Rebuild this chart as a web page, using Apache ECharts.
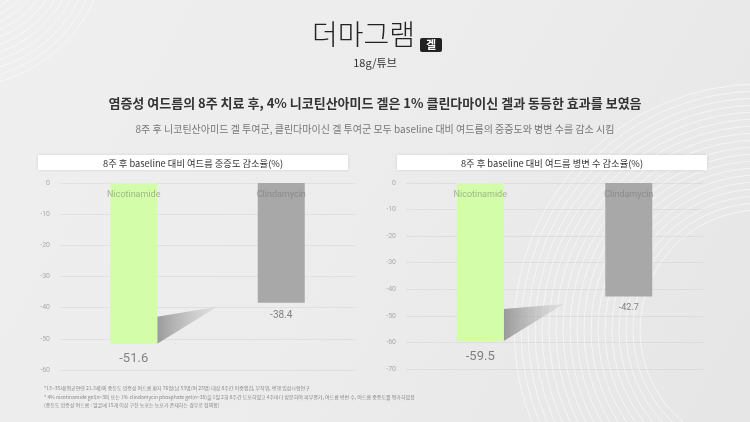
<!DOCTYPE html>
<html>
<head>
<meta charset="utf-8">
<script src="https://cdn.jsdelivr.net/npm/echarts@6/dist/echarts.min.js"></script>
<style>
  html, body { margin: 0; padding: 0; }
  #chart { width: 750px; height: 422px; }
</style>
</head>
<body>
<div id="chart"></div>
<script>
// data
const categories = ['Nicotinamide', 'Clindamycin']
const severityValues = [-51.6, -38.4]   // 중증도 감소율
const lesionValues = [-59.5, -42.7]     // 병변 수 감소율
const severityAxis = { min: -60, max: 0, interval: 10 }
const lesionAxis = { min: -70, max: 0, interval: 10 }

const titleText = '염증성 여드름의 8주 치료 후, 4% 니코틴산아미드 겔은 1% 클린다마이신 겔과 동등한 효과를 보였음'
const subText = '8주 후 니코틴산아미드 겔 투여군, 클린다마이신 겔 투여군 모두 baseline 대비 여드름의 중증도와 병변 수를 감소 시킴'
const chartTitles = ['8주 후 baseline 대비 여드름 중증도 감소율(%)', '8주 후 baseline 대비 여드름 병변 수 감소율(%)']
const footnotes = [
  '*13~35세(평균연령 21.3세)의 중등도 염증성 여드름 환자 76명(남 53명/여 23명) 대상 8주간 이중맹검, 무작위, 병행 임상시험연구',
  '* 4% nicotinamide gel(n=38) 또는 1% clindamycin phosphate gel(n=38)을 1일 2회 8주간 도포하였고 4주마다 방문하여 피부평가, 여드름 병변 수, 여드름 중증도를 평가하였음',
  '(중등도 염증성 여드름 : 얼굴에 15개 이상 구진 농포는 농포가 존재하는 경우로 정의함)',
]

const FONT = '"Noto Sans CJK KR", "Noto Sans", sans-serif'
const barColors = ['#d3fda8', '#a8a8a8']
const nameColors = ['#8fa67c', '#858585']

const chart = echarts.init(document.getElementById('chart'))

// background rings
const rings = []
for (let r = 120; r <= 250; r += 7) {
  rings.push({
    type: 'circle', silent: true, z: -10,
    shape: { cx: 760, cy: 330, r: r },
    style: { fill: 'none', stroke: 'rgba(255,255,255,0.55)', lineWidth: 1 },
  })
}
for (let r = 70; r <= 150; r += 7) {
  rings.push({
    type: 'circle', silent: true, z: -10,
    shape: { cx: -40, cy: -60, r: r },
    style: { fill: 'none', stroke: 'rgba(255,255,255,0.5)', lineWidth: 1 },
  })
}

const shadowSeries = (gridIdx, values, top) => ({
  type: 'custom',
  xAxisIndex: gridIdx,
  yAxisIndex: gridIdx,
  z: 1,
  silent: true,
  data: [[0, values[0]]],
  renderItem: (params, api) => {
    const p = api.coord([api.value(0), api.value(1)])
    const x = p[0] + 23.5
    const y = p[1]
    return {
      type: 'polygon',
      shape: { points: [[x, y - top], [x + 60, y - 37], [x, y]] },
      style: {
        fill: new echarts.graphic.LinearGradient(0, 0, 1, 0, [
          { offset: 0, color: 'rgba(140,140,140,0.85)' },
          { offset: 1, color: 'rgba(180,180,180,0.2)' },
        ]),
      },
    }
  },
})

const labelSeries = (gridIdx, values, sizes, dists) => ({
  type: 'scatter',
  xAxisIndex: gridIdx,
  yAxisIndex: gridIdx,
  symbolSize: 1,
  itemStyle: { color: 'transparent' },
  z: 5,
  silent: true,
  data: values.flatMap((v, i) => [
    {
      value: [i, 0],
      label: {
        show: true, position: 'bottom', distance: 7,
        formatter: categories[i], fontSize: 9, color: nameColors[i], fontFamily: 'Roboto',
      },
    },
    {
      value: [i, v],
      label: {
        show: true, position: 'bottom', distance: dists[i],
        formatter: String(v), fontSize: sizes[i], color: '#666', fontFamily: 'Roboto',
      },
    },
  ]),
})

const yAxisBase = (gridIdx, ax) => ({
  type: 'value',
  gridIndex: gridIdx,
  min: ax.min, max: ax.max, interval: ax.interval,
  axisLine: { show: false },
  axisTick: { show: false },
  axisLabel: { fontSize: 7, color: '#aaa', margin: 10, fontFamily: 'Roboto' },
  splitLine: { lineStyle: { color: 'rgba(0,0,0,0.05)' } },
})

const xAxisBase = (gridIdx) => ({
  type: 'category',
  gridIndex: gridIdx,
  data: categories,
  position: 'top',
  show: false,
})

const option = {
  backgroundColor: new echarts.graphic.LinearGradient(0, 0, 1, 1, [
    { offset: 0, color: '#efefef' },
    { offset: 0.5, color: '#ececec' },
    { offset: 1, color: '#e6e6e6' },
  ]),
  animation: false,
  textStyle: { fontFamily: FONT },
  grid: [
    { left: 60, right: 395, top: 183, height: 187 },
    { left: 406, right: 47, top: 183, height: 186 },
  ],
  xAxis: [xAxisBase(0), xAxisBase(1)],
  yAxis: [yAxisBase(0, severityAxis), yAxisBase(1, lesionAxis)],
  series: [
    {
      type: 'bar', xAxisIndex: 0, yAxisIndex: 0, barWidth: 47, z: 2,
      data: severityValues.map((v, i) => ({ value: v, itemStyle: { color: barColors[i] } })),
    },
    {
      type: 'bar', xAxisIndex: 1, yAxisIndex: 1, barWidth: 47, z: 2,
      data: lesionValues.map((v, i) => ({ value: v, itemStyle: { color: barColors[i] } })),
    },
    shadowSeries(0, severityValues, 27),
    shadowSeries(1, lesionValues, 32),
    labelSeries(0, severityValues, [13, 10], [8, 7]),
    labelSeries(1, lesionValues, [13, 9], [9, 6]),
  ],
  graphic: [
    ...rings,
    // logo
    {
      type: 'text', left: 312, top: 20,
      style: { text: '더마그램', font: '300 28px ' + FONT, fill: '#222' },
    },
    {
      type: 'rect', shape: { x: 420, y: 38, width: 22, height: 14, r: 2 },
      style: { fill: '#222' },
    },
    {
      type: 'text', x: 431, y: 45,
      style: { text: '겔', font: 'bold 11px ' + FONT, fill: '#fff', align: 'center', verticalAlign: 'middle' },
    },
    {
      type: 'text', x: 375, y: 63,
      style: { text: '18g/튜브', font: '11px ' + FONT, fill: '#333', align: 'center', verticalAlign: 'middle' },
    },
    {
      type: 'text', x: 375, y: 103,
      style: { text: titleText, font: 'bold 13px ' + FONT, fill: '#333', align: 'center', verticalAlign: 'middle' },
    },
    {
      type: 'text', x: 375, y: 129,
      style: { text: subText, font: '10px ' + FONT, fill: '#777', align: 'center', verticalAlign: 'middle' },
    },
    // chart title boxes
    {
      type: 'rect', shape: { x: 38, y: 155, width: 310, height: 15 },
      style: { fill: '#fff', shadowBlur: 3, shadowColor: 'rgba(0,0,0,0.12)' },
    },
    {
      type: 'text', x: 193, y: 163,
      style: { text: chartTitles[0], font: '9.3px ' + FONT, fill: '#333', align: 'center', verticalAlign: 'middle' },
    },
    {
      type: 'rect', shape: { x: 397, y: 155, width: 310, height: 15 },
      style: { fill: '#fff', shadowBlur: 3, shadowColor: 'rgba(0,0,0,0.12)' },
    },
    {
      type: 'text', x: 552, y: 163,
      style: { text: chartTitles[1], font: '9.3px ' + FONT, fill: '#333', align: 'center', verticalAlign: 'middle' },
    },
    // footnotes
    ...footnotes.map((t, i) => ({
      type: 'text', left: 44, top: 386 + i * 8.5,
      style: { text: t, font: '5px ' + FONT, fill: '#888' },
    })),
  ],
}

chart.setOption(option)
</script>
</body>
</html>
